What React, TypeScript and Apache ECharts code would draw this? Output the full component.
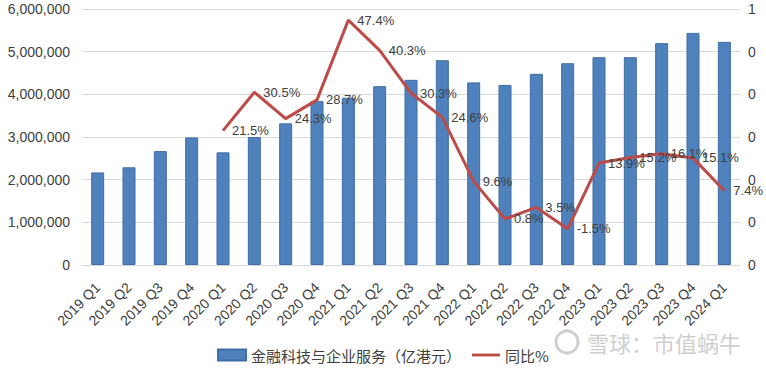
import React, { useEffect, useRef } from "react";
import * as echarts from "echarts";

const categories = [
  "2019 Q1", "2019 Q2", "2019 Q3", "2019 Q4",
  "2020 Q1", "2020 Q2", "2020 Q3", "2020 Q4",
  "2021 Q1", "2021 Q2", "2021 Q3", "2021 Q4",
  "2022 Q1", "2022 Q2", "2022 Q3", "2022 Q4",
  "2023 Q1", "2023 Q2", "2023 Q3", "2023 Q4",
  "2024 Q1",
];

const revenue = [
  2170000, 2290000, 2670000, 2990000,
  2640000, 3000000, 3320000, 3840000,
  3920000, 4190000, 4340000, 4800000,
  4280000, 4220000, 4480000, 4730000,
  4870000, 4870000, 5200000, 5440000,
  5230000,
];

const yoy = [
  null, null, null, null,
  21.5, 30.5, 24.3, 28.7,
  47.4, 40.3, 30.3, 24.6,
  9.6, 0.8, 3.5, -1.5,
  13.9, 15.2, 16.1, 15.1,
  7.4,
];

const seriesNames = ["金融科技与企业服务（亿港元）", "同比%"];
const watermarkText = "雪球：市值蜗牛";

export default function App() {
  const ref = useRef<HTMLDivElement>(null);
  useEffect(() => {
    if (!ref.current) return;
    document.body.style.margin = "0";
    const chart = echarts.init(ref.current, null, { renderer: "svg" });
    const numFont = "Liberation Sans, Arial, sans-serif";
    chart.setOption({
      animation: false,
      backgroundColor: "#ffffff",
      grid: { left: 82, right: 26, top: 9, bottom: 103, containLabel: false },
      legend: {
        left: 212,
        top: 340,
        itemWidth: 28,
        itemHeight: 11,
        itemGap: 11,
        textStyle: {
          fontFamily: "Noto Sans CJK SC",
          fontSize: 15,
          lineHeight: 20,
          color: "#404040",
        },
        data: [
          { name: seriesNames[0], icon: "rect" },
          { name: seriesNames[1], icon: "path://M0,0 L30,0 L30,3 L0,3 Z" },
        ],
      },
      xAxis: {
        type: "category",
        data: categories,
        axisTick: { show: false },
        axisLine: { lineStyle: { color: "#d9d9d9", width: 1 } },
        axisLabel: {
          interval: 0,
          rotate: 45,
          margin: 20,
          fontFamily: numFont,
          fontSize: 14,
          color: "#404040",
        },
      },
      yAxis: [
        {
          type: "value",
          min: 0,
          max: 6000000,
          interval: 1000000,
          axisLine: { show: false },
          axisTick: { show: false },
          splitLine: { lineStyle: { color: "#d9d9d9", width: 1 } },
          axisLabel: {
            margin: 12,
            fontFamily: numFont,
            fontSize: 14,
            color: "#404040",
            formatter: (v: number) => v.toLocaleString("en-US"),
          },
        },
        {
          type: "value",
          min: -10,
          max: 50,
          interval: 10,
          axisLine: { show: false },
          axisTick: { show: false },
          splitLine: { show: false },
          axisLabel: {
            margin: 8,
            fontFamily: numFont,
            fontSize: 14,
            color: "#404040",
            formatter: (v: number) => (v >= 49.9 ? "1" : "0"),
          },
        },
      ],
      series: [
        {
          name: seriesNames[0],
          type: "bar",
          data: revenue,
          barWidth: 13,
          itemStyle: { color: "#4f81bd", borderColor: "#3f6ea6", borderWidth: 1 },
        },
        {
          name: seriesNames[1],
          type: "line",
          yAxisIndex: 1,
          data: yoy,
          symbol: "circle",
          symbolSize: 0,
          showSymbol: true,
          connectNulls: false,
          lineStyle: { color: "#be4b48", width: 3 },
          itemStyle: { color: "#be4b48" },
          label: {
            show: true,
            position: "right",
            distance: 9,
            fontFamily: numFont,
            fontSize: 13,
            color: "#404040",
            formatter: (p: any) => `${Number(p.value).toFixed(1)}%`,
          },
        },
      ],
      graphic: [
        {
          type: "circle",
          shape: { cx: 567, cy: 342, r: 11 },
          style: { fill: "none", stroke: "#cfcfcf", lineWidth: 3 },
          silent: true,
        },
        {
          type: "text",
          left: 587,
          top: 331,
          style: {
            text: watermarkText,
            fontFamily: "Noto Sans CJK SC",
            fontSize: 22,
            fill: "#cfcfcf",
          },
          silent: true,
        },
      ],
    });
    return () => chart.dispose();
  }, []);
  return <div ref={ref} style={{ width: 766, height: 368 }} />;
}
